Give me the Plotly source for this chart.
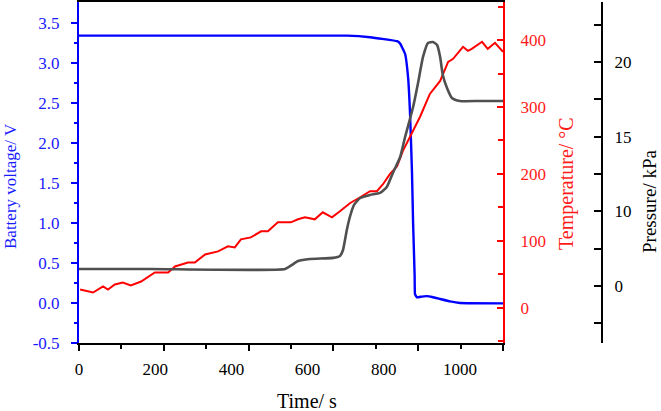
import plotly.graph_objects as go

# ---------------- data ----------------
time_v = [0, 703, 764, 835, 843, 856, 864, 869, 874, 877, 881, 882, 887, 900, 913, 927, 948, 974, 1000, 1113]
voltage = [3.34, 3.34, 3.32, 3.27, 3.24, 3.11, 2.81, 2.36, 1.65, 1.0, 0.35, 0.11, 0.07, 0.08, 0.085, 0.075, 0.05, 0.02, 0.0, -0.005]

time_t = [3, 37, 63, 76, 94, 115, 136, 163, 199, 234, 252, 286, 304, 331, 365, 391, 409, 425, 451, 478,
          496, 522, 556, 575, 593, 619, 640, 664, 685, 711, 738, 764, 782, 798, 816, 835, 850, 869, 895,
          921, 948, 969, 982, 1008, 1021, 1031, 1058, 1073, 1092, 1113]
temperature = [27, 22.5, 31.5, 27, 34.5, 37.5, 33, 39, 52.5, 52.5, 61.5, 67.5, 67.5, 79.5, 84, 91.5, 90, 102,
               105, 114, 114, 127.5, 127.5, 132, 135, 132, 142.5, 135, 144, 156, 165, 174, 174, 184.5, 199.5,
               211.5, 234, 256.5, 285, 319.5, 339, 367.5, 372, 390, 384, 387, 397.5, 387, 396, 382.5]

time_p = [0, 186, 541, 559, 575, 606, 667, 685, 693, 703, 711, 722, 738, 764, 790, 808, 824, 843, 856, 877,
          890, 903, 916, 929, 940, 948, 955, 966, 979, 1000, 1052, 1113]
pressure = [6.14, 6.14, 6.14, 6.41, 6.67, 6.81, 6.88, 7.01, 7.41, 8.75, 9.62, 10.43, 10.89, 11.10, 11.23,
            11.63, 12.57, 13.64, 14.98, 16.99, 18.60, 20.34, 21.28, 21.34, 21.14, 20.34, 19.13, 18.26, 17.59,
            17.39, 17.39, 17.39]

x_labels = [0, 200, 400, 600, 800, 1000]
v_ticks = [-0.5, 0.0, 0.5, 1.0, 1.5, 2.0, 2.5, 3.0, 3.5]
t_ticks = [0, 100, 200, 300, 400]
p_tickvals = [5, 10, 15, 20]
p_ticktext = ["0", "10", "15", "20"]

FONT = "Liberation Serif"
X_MAX = 1113
x_long = [X_MAX * k / 10 for k in range(0, 11, 2)]
x_short = [X_MAX * k / 10 for k in range(1, 10, 2)]

fig = go.Figure()
fig.add_trace(go.Scatter(x=time_v, y=voltage, mode="lines", line=dict(color="#0000ff", width=2.4, shape="spline", smoothing=0.3),
                         xaxis="x", yaxis="y", showlegend=False))
fig.add_trace(go.Scatter(x=time_t, y=temperature, mode="lines", line=dict(color="#ff0000", width=2),
                         xaxis="x", yaxis="y2", showlegend=False))
fig.add_trace(go.Scatter(x=time_p, y=pressure, mode="lines", line=dict(color="#505050", width=2.6, shape="spline", smoothing=0.5),
                         xaxis="x", yaxis="y3", showlegend=False))
fig.add_trace(go.Scatter(x=[None], y=[None], xaxis="x2", yaxis="y", showlegend=False, hoverinfo="skip"))

dom_right = (503 - 79) / (602 - 79)

fig.update_layout(
    width=661, height=411,
    margin=dict(l=79, r=59, t=2, b=68),
    paper_bgcolor="white", plot_bgcolor="white",
    template="none",
    font=dict(family=FONT, size=17, color="black"),
    xaxis=dict(domain=[0, dom_right], range=[0, X_MAX], showgrid=False, zeroline=False,
               showline=True, linecolor="black", linewidth=2, mirror=True,
               tickmode="array", tickvals=x_long, ticktext=[""] * len(x_long),
               ticks="outside", ticklen=6, tickwidth=2, tickcolor="black",
               minor=dict(tickmode="array", tickvals=x_short, ticks="outside", ticklen=3.5, tickwidth=2, tickcolor="black")),
    xaxis2=dict(domain=[0, dom_right], range=[0, X_MAX], overlaying="x", anchor="y", side="bottom",
                showgrid=False, zeroline=False, showline=False, ticks="",
                tickmode="array", tickvals=x_labels, ticktext=[str(v) for v in x_labels], ticklabelstandoff=14,
                tickfont=dict(family=FONT, size=17, color="black")),
    yaxis=dict(range=[-0.5, 3.76], showgrid=False, zeroline=False,
               showline=True, linecolor="#0000ff", linewidth=2,
               tickmode="array", tickvals=v_ticks, ticktext=["%.1f" % v for v in v_ticks],
               ticks="outside", ticklen=6, tickwidth=2, tickcolor="#0000ff",
               minor=dict(tickmode="array", tickvals=[-0.25 + 0.5 * k for k in range(8)], ticks="outside",
                          ticklen=3.5, tickwidth=2, tickcolor="#0000ff"),
               tickfont=dict(family=FONT, size=17, color="#1a1aff"), ticklabelstandoff=8),
    yaxis2=dict(range=[-53, 457], overlaying="y", anchor="x", side="right", showgrid=False, zeroline=False,
                showline=True, linecolor="#ff0000", linewidth=2,
                tickmode="array", tickvals=t_ticks, ticktext=[str(v) for v in t_ticks],
                ticks="inside", ticklen=6, tickwidth=2, tickcolor="#ff0000",
                minor=dict(tickmode="array", tickvals=[-50, 50, 150, 250, 350, 450], ticks="inside",
                           ticklen=5, tickwidth=2, tickcolor="#ff0000"),
                tickfont=dict(family=FONT, size=17, color="#ff1a1a"), ticklabelstandoff=12),
    yaxis3=dict(range=[1.18, 24.02], overlaying="y", anchor="free", position=1.0, side="right",
                showgrid=False, zeroline=False, showline=True, linecolor="black", linewidth=2,
                tickmode="array", tickvals=p_tickvals, ticktext=p_ticktext,
                ticks="inside", ticklen=7, tickwidth=2, tickcolor="black",
                minor=dict(tickmode="array", tickvals=[2.5, 7.5, 12.5, 17.5, 22.5], ticks="inside",
                           ticklen=7, tickwidth=2, tickcolor="black"),
                tickfont=dict(family=FONT, size=17, color="black"), ticklabelstandoff=8),
)

def px2paper_x(px):
    return (px - 79) / (602 - 79)

def px2paper_y(py):
    return (343 - py) / (343 - 2)

fig.add_annotation(text="Battery voltage/ V", x=px2paper_x(10), y=px2paper_y(186), xref="paper", yref="paper",
                   textangle=-90, showarrow=False, font=dict(family=FONT, size=17, color="#1a1aff"),
                   xanchor="center", yanchor="middle")
fig.add_annotation(text="Temperature/ °C", x=px2paper_x(566), y=px2paper_y(184), xref="paper", yref="paper",
                   textangle=-90, showarrow=False, font=dict(family=FONT, size=20, color="#ff1a1a"),
                   xanchor="center", yanchor="middle")
fig.add_annotation(text="Pressure/ kPa", x=px2paper_x(650), y=px2paper_y(202), xref="paper", yref="paper",
                   textangle=-90, showarrow=False, font=dict(family=FONT, size=19, color="black"),
                   xanchor="center", yanchor="middle")
fig.add_annotation(text="Time/ s", x=px2paper_x(307), y=px2paper_y(401), xref="paper", yref="paper",
                   showarrow=False, font=dict(family=FONT, size=20, color="black"),
                   xanchor="center", yanchor="middle")

fig.write_html("out.html")
